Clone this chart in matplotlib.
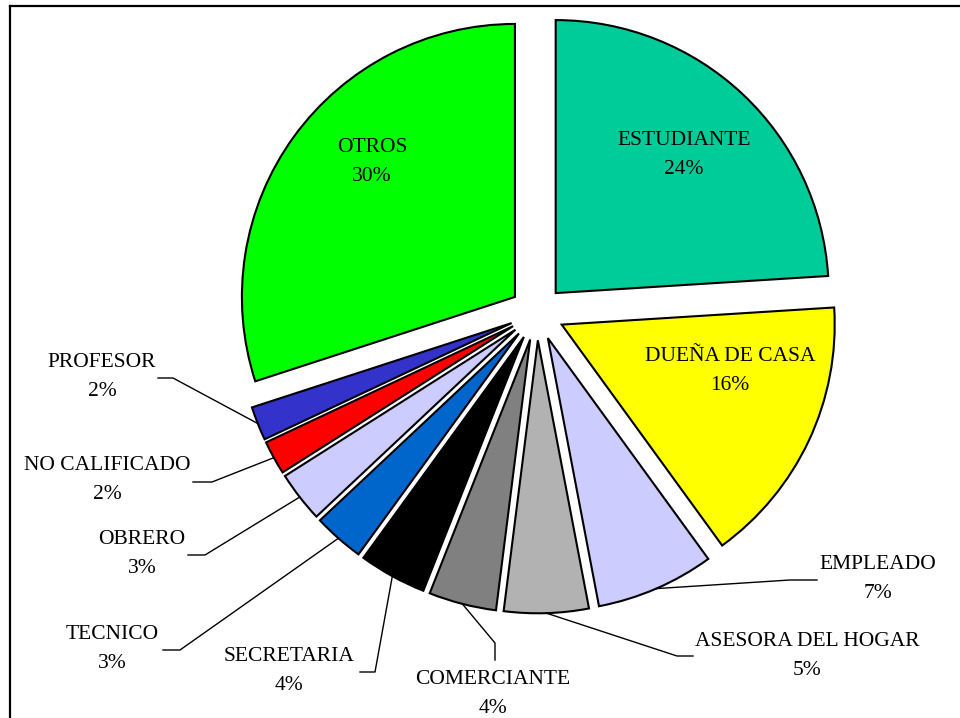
import matplotlib
matplotlib.use("Agg")
import numpy as np
from matplotlib import pyplot as plt
from matplotlib.lines import Line2D

# data
categories = ["ESTUDIANTE", "DUEÑA DE CASA", "EMPLEADO", "ASESORA DEL HOGAR",
              "COMERCIANTE", "SECRETARIA", "TECNICO", "OBRERO",
              "NO CALIFICADO", "PROFESOR", "OTROS"]
percent = [24, 16, 7, 5, 4, 4, 3, 3, 2, 2, 30]
colors = ["#00CC99", "#FFFF00", "#CCCCFF", "#B2B2B2", "#808080", "#000000",
          "#0066CC", "#CCCCFF", "#FF0000", "#3333CC", "#00FF00"]

# layout (pixel positions in the 960x718 picture, y from top)
W, H = 960, 718
CX, CY, R = 537, 313, 273
inside_pos = {"ESTUDIANTE": (684, 155), "DUEÑA DE CASA": (730, 371), "OTROS": (372, 162)}
# text centre, leader start near text, elbow
outside_pos = {
    "PROFESOR": ((102, 377), (158, 378), (173, 378)),
    "NO CALIFICADO": ((107, 480), (193, 482), (212, 482)),
    "OBRERO": ((142, 554), (188, 555), (205, 555)),
    "TECNICO": ((112, 649), (163, 650), (180, 650)),
    "SECRETARIA": ((289, 671), (360, 672), (375, 672)),
    "COMERCIANTE": ((493, 694), (495, 660), (495, 643)),
    "ASESORA DEL HOGAR": ((807, 656), (693, 656), (677, 656)),
    "EMPLEADO": ((878, 579), (817, 580), (790, 580)),
}


def px(x, y):
    # pixel -> data units (pie radius = 1)
    return (x - CX) / R, (CY - y) / R


plt.rcParams["font.family"] = ["Liberation Serif", "DejaVu Serif"]
fig = plt.figure(figsize=(W / 100, H / 100), dpi=100)
ax = fig.add_axes([0, 0, 1, 1])

wedges, _ = ax.pie(percent, colors=colors, startangle=90, counterclock=False,
                   explode=[0.1] * len(percent), radius=1,
                   wedgeprops=dict(edgecolor="black", linewidth=1.5))

x0, y0 = px(0, H)
x1, y1 = px(W, 0)
ax.set_xlim(x0, x1)
ax.set_ylim(y0, y1)
ax.set_aspect("auto")
ax.axis("off")

fs = 15.5
for name, p, w in zip(categories, percent, wedges):
    txt = f"{name}\n{p}%"
    if name in inside_pos:
        tx, ty = px(*inside_pos[name])
        ax.text(tx, ty, txt, ha="center", va="center", fontsize=fs, linespacing=1.7)
    else:
        (tp, a, e) = outside_pos[name]
        tx, ty = px(*tp)
        ax.text(tx, ty, txt, ha="center", va="center", fontsize=fs, linespacing=1.7)
        # leader to arc midpoint of the exploded wedge
        tm = np.deg2rad((w.theta1 + w.theta2) / 2)
        cx, cy = w.center
        ex, ey = cx + w.r * np.cos(tm), cy + w.r * np.sin(tm)
        ax_, ay_ = px(*a)
        bx_, by_ = px(*e)
        ax.plot([ax_, bx_, ex], [ay_, by_, ey], color="black", lw=1.0)

# frame around the picture (right/bottom fall outside)
fig.add_artist(Line2D([9.5 / W, 9.5 / W], [0, 1 - 5.5 / H], color="black", lw=1.6))
fig.add_artist(Line2D([9.5 / W, 1], [1 - 5.5 / H, 1 - 5.5 / H], color="black", lw=1.6))

plt.savefig("out.png", dpi=100)
plt.close()
